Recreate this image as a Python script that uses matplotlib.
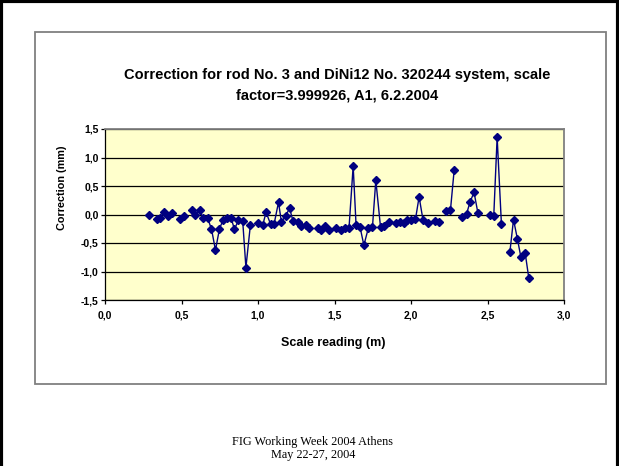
import matplotlib
matplotlib.use("Agg")
import matplotlib.pyplot as plt
import numpy as np
from matplotlib.patches import Rectangle
from matplotlib.lines import Line2D
from matplotlib.ticker import FuncFormatter, MultipleLocator

# Scale reading (m) and correction (mm); None = empty cell (gap in the line)
scale_reading = [
    0.286, None,
    0.337, 0.358, 0.386, 0.413, 0.439, None,
    0.487, 0.517, None,
    0.569, 0.591, 0.618, 0.641, 0.670, 0.696, 0.722, 0.748, 0.772, 0.796,
    0.824, 0.846, 0.872, 0.900, 0.921, 0.950, None,
    1.001, 1.031, 1.053, 1.082, 1.105, 1.134, 1.153, 1.182, 1.206, 1.229,
    1.260, 1.284, 1.312, 1.332, None,
    1.389, 1.415, 1.441, 1.465, None,
    1.508, 1.541, 1.569, 1.595, 1.622, 1.641, 1.667, 1.692, 1.722, 1.748,
    1.770, 1.801, 1.824, 1.853, None,
    1.901, 1.928, 1.952, 1.976, 2.003, 2.029, 2.053, 2.079, 2.108, None,
    2.156, 2.184, None,
    2.232, 2.258, 2.282, None,
    2.334, 2.363, 2.386, 2.412, 2.437, None,
    2.515, 2.541, 2.563, 2.591, None,
    2.646, 2.670, 2.696, 2.718, 2.746, 2.770,
]
correction = [
    0.00, None,
    -0.075, -0.06, 0.04, -0.02, 0.03, None,
    -0.075, -0.02, None,
    0.075, 0.00, 0.08, -0.07, -0.06, -0.255, -0.625, -0.255, -0.09, -0.065,
    -0.06, -0.26, -0.10, -0.115, -0.93, -0.19, None,
    -0.145, -0.185, 0.04, -0.17, -0.17, 0.215, -0.13, -0.02, 0.11, -0.115,
    -0.13, -0.20, -0.18, -0.23, None,
    -0.24, -0.27, -0.21, -0.27, None,
    -0.24, -0.28, -0.24, -0.23, 0.85, -0.19, -0.22, -0.54, -0.23, -0.225,
    0.60, -0.225, -0.21, -0.14, None,
    -0.15, -0.14, -0.145, -0.095, -0.105, -0.087, 0.31, -0.105, -0.145, None,
    -0.115, -0.14, None,
    0.07, 0.08, 0.775, None,
    -0.05, 0.01, 0.22, 0.39, 0.03, None,
    -0.01, -0.02, 1.355, -0.17, None,
    -0.665, -0.09, -0.435, -0.745, -0.67, -1.117,
]

title = ("Correction for rod No. 3 and DiNi12 No. 320244 system, scale\n"
         "factor=3.999926, A1, 6.2.2004")
footer = ["FIG Working Week 2004 Athens", "May 22-27, 2004"]

plt.rcParams["font.family"] = ["Liberation Sans", "DejaVu Sans"]

W, H = 619, 466
fig = plt.figure(figsize=(W / 100, H / 100), dpi=100)
fig.patch.set_facecolor("white")

# page frame (black) and chart area border (grey)
for xs, ys in [([0.002, 0.002], [0, 1]), ([0.002, 0.998], [0.997, 0.997]),
               ([0.998, 0.998], [0, 1])]:
    fig.add_artist(Line2D(xs, ys, transform=fig.transFigure, color="black", lw=3))
fig.add_artist(Rectangle((35 / W, 1 - 384 / H), (606 - 35) / W, (384 - 32) / H,
                         transform=fig.transFigure, fill=False,
                         edgecolor="#808080", lw=1.3))

ax = fig.add_axes([105 / W, 1 - 300 / H, (564 - 105) / W, (300 - 129) / H])
ax.set_facecolor("#FFFFCC")

x = np.array(scale_reading, dtype=float)
y = np.array(correction, dtype=float)
ax.plot(x, y, color="#000080", lw=1.0, marker="D", ms=4.3,
        mfc="#000080", mec="#000080", zorder=3)

ax.set_xlim(0, 3)
ax.set_ylim(-1.5, 1.5)
ax.xaxis.set_major_locator(MultipleLocator(0.5))
ax.yaxis.set_major_locator(MultipleLocator(0.5))


def comma_fmt(v, pos):
    if abs(v) < 1e-9:
        v = 0.0
    return f"{v:.1f}".replace(".", ",")


ax.xaxis.set_major_formatter(FuncFormatter(comma_fmt))
ax.yaxis.set_major_formatter(FuncFormatter(comma_fmt))

ax.yaxis.grid(True, color="black", lw=0.9)
ax.set_axisbelow(True)
for side in ["top", "right"]:
    ax.spines[side].set_color("#808080")
    ax.spines[side].set_linewidth(1.3)
for side in ["left", "bottom"]:
    ax.spines[side].set_color("black")
    ax.spines[side].set_linewidth(0.9)

ax.tick_params(axis="both", direction="out", length=3, width=0.9,
               labelsize=7.5)
ax.tick_params(axis="x", pad=4.5)
ax.tick_params(axis="y", pad=1.5)
for lab in ax.get_xticklabels() + ax.get_yticklabels():
    lab.set_fontweight("bold")

ax.set_xlabel("Scale reading (m)", fontsize=9, fontweight="bold")
ax.set_ylabel("Correction (mm)", fontsize=7.8, fontweight="bold")
ax.xaxis.set_label_coords(0.497, -0.216)
ax.yaxis.set_label_coords(-0.083, 0.655)

fig.text(337 / W, 1 - 85.5 / H, title, ha="center", va="center",
         fontsize=10.5, fontweight="bold", linespacing=1.6)

fig.text(313 / W, 1 - 442.5 / H, footer[0], ha="center", va="center",
         fontsize=8.8, family=["Liberation Serif", "DejaVu Serif"])
fig.text(313 / W, 1 - 455 / H, footer[1], ha="center", va="center",
         fontsize=8.8, family=["Liberation Serif", "DejaVu Serif"])

fig.savefig("out.png", dpi=100)
